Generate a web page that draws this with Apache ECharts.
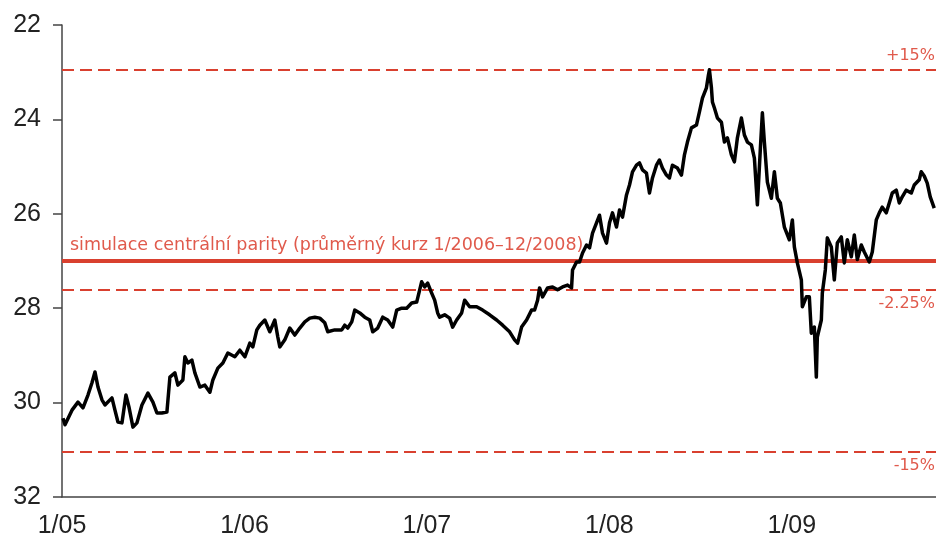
<!DOCTYPE html>
<html>
<head>
<meta charset="utf-8">
<script src="https://cdn.jsdelivr.net/npm/echarts@6/dist/echarts.min.js"></script>
<style>
  html, body { margin: 0; padding: 0; background: #fff; }
  #chart { width: 936px; height: 543px; }
</style>
</head>
<body>
<div id="chart"></div>
<script>
// CZK/EUR exchange rate, 2005–2009
const dates = [
  '2005-01-03','2005-01-07','2005-01-21','2005-02-02','2005-02-12','2005-02-22','2005-03-02','2005-03-08','2005-03-14','2005-03-22',
  '2005-03-28','2005-04-11','2005-04-17','2005-04-23','2005-05-01','2005-05-09','2005-05-15','2005-05-23','2005-05-31','2005-06-10',
  '2005-06-22','2005-07-02','2005-07-10','2005-07-20','2005-07-30','2005-08-05','2005-08-15','2005-08-21','2005-08-31','2005-09-04',
  '2005-09-10','2005-09-18','2005-09-24','2005-10-04','2005-10-14','2005-10-24','2005-10-30','2005-11-09','2005-11-19','2005-11-29',
  '2005-12-13','2005-12-23','2006-01-02','2006-01-12','2006-01-18','2006-01-26','2006-02-01','2006-02-11','2006-02-21','2006-03-03',
  '2006-03-09','2006-03-13','2006-03-23','2006-04-02','2006-04-12','2006-04-22','2006-05-02','2006-05-12','2006-05-22','2006-06-01',
  '2006-06-11','2006-06-17','2006-07-01','2006-07-15','2006-07-21','2006-07-27','2006-08-04','2006-08-10','2006-08-20','2006-08-30',
  '2006-09-09','2006-09-15','2006-09-25','2006-10-05','2006-10-15','2006-10-25','2006-11-02','2006-11-12','2006-11-22','2006-12-02',
  '2006-12-12','2006-12-18','2006-12-22','2006-12-28','2007-01-03','2007-01-11','2007-01-17','2007-01-23','2007-01-27','2007-02-06',
  '2007-02-16','2007-02-22','2007-03-02','2007-03-12','2007-03-18','2007-03-28','2007-04-11','2007-04-23','2007-05-07','2007-05-21',
  '2007-06-02','2007-06-16','2007-06-26','2007-07-02','2007-07-10','2007-07-20','2007-07-30','2007-08-05','2007-08-11','2007-08-15',
  '2007-08-21','2007-08-31','2007-09-10','2007-09-20','2007-09-30','2007-10-10','2007-10-18','2007-10-20','2007-10-28','2007-11-03',
  '2007-11-09','2007-11-17','2007-11-23','2007-11-29','2007-12-07','2007-12-13','2007-12-19','2007-12-27','2008-01-02','2008-01-08',
  '2008-01-16','2008-01-22','2008-01-28','2008-02-05','2008-02-11','2008-02-17','2008-02-25','2008-03-02','2008-03-08','2008-03-16',
  '2008-03-22','2008-03-28','2008-04-05','2008-04-11','2008-04-17','2008-04-25','2008-05-01','2008-05-07','2008-05-17','2008-05-25',
  '2008-05-31','2008-06-06','2008-06-14','2008-06-24','2008-06-30','2008-07-06','2008-07-14','2008-07-18','2008-07-20','2008-07-24',
  '2008-07-26','2008-07-30','2008-08-05','2008-08-13','2008-08-19','2008-08-25','2008-09-02','2008-09-08','2008-09-14','2008-09-22',
  '2008-09-28','2008-10-04','2008-10-12','2008-10-18','2008-10-24','2008-10-30','2008-11-03','2008-11-07','2008-11-13','2008-11-21',
  '2008-11-27','2008-12-03','2008-12-09','2008-12-17','2008-12-27','2009-01-02','2009-01-06','2009-01-12','2009-01-20','2009-01-22',
  '2009-01-30','2009-02-05','2009-02-09','2009-02-15','2009-02-19','2009-02-21','2009-03-01','2009-03-03','2009-03-09','2009-03-13',
  '2009-03-21','2009-03-27','2009-04-02','2009-04-10','2009-04-16','2009-04-22','2009-04-30','2009-05-06','2009-05-12','2009-05-20',
  '2009-05-26','2009-06-05','2009-06-11','2009-06-19','2009-06-25','2009-07-01','2009-07-09','2009-07-15','2009-07-21','2009-07-29',
  '2009-08-04','2009-08-10','2009-08-18','2009-08-28','2009-09-03','2009-09-13','2009-09-17','2009-09-23','2009-09-29','2009-10-05',
  '2009-10-13'
];

const rates = [
  30.33,30.47,30.16,29.99,30.11,29.84,29.58,29.35,29.67,29.94,
  30.05,29.90,30.16,30.41,30.43,29.84,30.09,30.52,30.43,30.05,
  29.80,29.99,30.22,30.22,30.20,29.46,29.37,29.63,29.52,29.03,
  29.16,29.10,29.37,29.67,29.63,29.78,29.52,29.27,29.16,28.95,
  29.03,28.89,29.03,28.74,28.82,28.46,28.36,28.25,28.50,28.25,
  28.61,28.82,28.67,28.42,28.57,28.42,28.29,28.21,28.19,28.21,
  28.31,28.50,28.46,28.46,28.36,28.42,28.29,28.04,28.10,28.19,
  28.25,28.50,28.42,28.19,28.25,28.40,28.04,28.00,28.00,27.89,
  27.87,27.61,27.44,27.55,27.47,27.68,27.83,28.10,28.19,28.14,
  28.21,28.40,28.25,28.10,27.83,27.97,27.97,28.04,28.14,28.25,
  28.36,28.50,28.67,28.74,28.40,28.25,28.04,28.04,27.83,27.57,
  27.76,27.57,27.55,27.61,27.55,27.51,27.57,27.19,27.02,27.02,
  26.83,26.66,26.72,26.41,26.19,26.03,26.41,26.62,26.19,25.98,
  26.28,25.92,26.07,25.60,25.39,25.11,24.97,24.92,25.07,25.14,
  25.56,25.24,24.97,24.86,25.03,25.18,25.24,24.97,25.03,25.18,
  24.75,24.48,24.18,24.12,23.84,23.55,23.33,23.06,22.95,23.33,
  23.63,23.76,23.97,24.06,24.48,24.39,24.75,24.90,24.39,23.97,
  24.33,24.48,24.54,24.82,25.81,24.61,23.86,24.48,25.33,25.67,
  25.11,25.67,25.77,26.28,26.55,26.13,26.70,27.04,27.40,27.97,
  27.76,27.76,28.53,28.40,29.46,28.61,28.25,27.68,27.19,26.51,
  26.70,27.40,26.62,26.49,27.04,26.55,26.91,26.45,26.97,26.66,
  26.81,27.02,26.81,26.13,25.98,25.86,25.98,25.77,25.56,25.50,
  25.77,25.64,25.50,25.56,25.39,25.28,25.11,25.20,25.35,25.64,
  25.88
];

// Reference levels: simulated central parity and its fluctuation bands
const parity = 27.0;
const bandLevels = [22.95, 27.61, 31.05];
const bandLabels = ['+15%', '-2.25%', '-15%'];
const parityLabel = 'simulace centrální parity (průměrný kurz 1/2006–12/2008)';

const yTicks = [22, 24, 26, 28, 30, 32];
const yearStart = 2005;
const yearEnd = 2009.79;

// Convert a date string to a fractional year
function toYear(s) {
  const [y, m, d] = s.split('-').map(Number);
  const ms = Date.UTC(y, m - 1, d) - Date.UTC(yearStart, 0, 1);
  return yearStart + ms / (365.25 * 86400000);
}

const seriesData = dates.map((d, i) => [toYear(d), rates[i]]);

const red = '#D9402F';
const labelRed = '#E05A4C';
const noteFont = 'DejaVu Sans, Verdana, sans-serif';

const bandLines = bandLevels.map((v, i) => ({
  yAxis: v,
  lineStyle: { type: [12, 6], width: 2, color: red },
  label: {
    show: true,
    formatter: bandLabels[i],
    position: i === 0 ? 'insideEndTop' : 'insideEndBottom',
    distance: [1, 6],
    color: labelRed,
    fontSize: 16,
    fontFamily: noteFont
  }
}));

const chart = echarts.init(document.getElementById('chart'), null, { renderer: 'canvas' });
chart.setOption({
  animation: false,
  backgroundColor: '#fff',
  grid: { left: 62, right: 0, top: 25, bottom: 46, containLabel: false },
  xAxis: {
    type: 'value',
    min: yearStart,
    max: yearEnd,
    interval: 1,
    axisLine: { show: true, lineStyle: { color: '#444', width: 1.5 } },
    axisTick: { show: false },
    splitLine: { show: false },
    axisLabel: {
      color: '#222',
      fontSize: 25,
      fontFamily: 'Liberation Sans, Arial, sans-serif',
      margin: 17,
      showMaxLabel: false,
      formatter: v => '1/' + String(Math.round(v)).slice(2)
    }
  },
  yAxis: {
    type: 'value',
    inverse: true,
    min: yTicks[0],
    max: yTicks[yTicks.length - 1],
    interval: 2,
    axisLine: { show: true, lineStyle: { color: '#444', width: 1.5 } },
    axisTick: { show: true, inside: false, length: 9, lineStyle: { color: '#444', width: 1.5 } },
    splitLine: { show: false },
    axisLabel: {
      color: '#222',
      fontSize: 25,
      fontFamily: 'Liberation Sans, Arial, sans-serif',
      margin: 21
    }
  },
  series: [{
    type: 'line',
    data: seriesData,
    showSymbol: false,
    symbol: 'none',
    lineStyle: { color: '#000', width: 3.5, join: 'round' },
    z: 3,
    markLine: {
      silent: true,
      symbol: 'none',
      animation: false,
      z: 2,
      data: [
        {
          yAxis: parity,
          lineStyle: { type: 'solid', width: 4, color: red },
          label: {
            show: true,
            formatter: parityLabel,
            position: 'insideStartTop',
            distance: [8, 7],
            color: labelRed,
            fontSize: 17.5,
            fontFamily: noteFont
          }
        },
        ...bandLines
      ]
    }
  }]
});
</script>
</body>
</html>
